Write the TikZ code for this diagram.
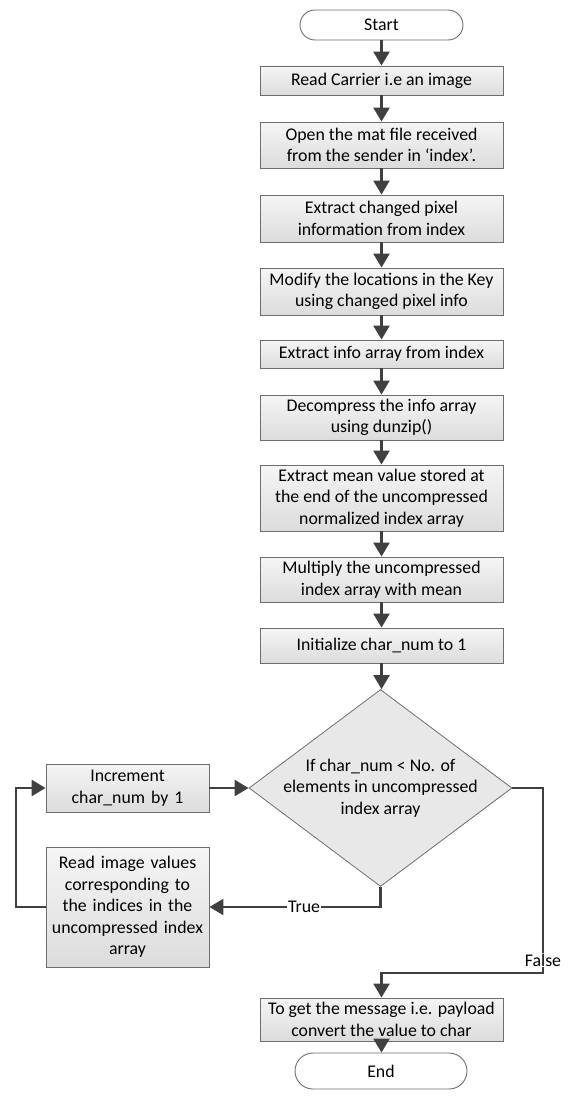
\documentclass[tikz,border=0pt]{standalone}
\usepackage{fontspec}
\setmainfont{Carlito}
\usetikzlibrary{shapes.geometric,arrows.meta}
\definecolor{linegray}{HTML}{404040}
\definecolor{edgegray}{HTML}{6E6E6E}
\definecolor{boxtop}{HTML}{F5F5F5}
\definecolor{boxbot}{HTML}{DCDCDC}
\definecolor{condfill}{HTML}{E8E8E8}

\begin{document}
\begin{tikzpicture}[x=1pt,y=-1pt,
  font=\fontsize{17.8pt}{21.5pt}\selectfont,
  process/.style={draw=edgegray,line width=0.9pt,top color=boxtop,bottom color=boxbot,
    minimum width=243pt,inner sep=2pt,align=center},
  sidebox/.style={process,minimum width=163pt,text width=159pt},
  terminal/.style={draw=edgegray,line width=0.9pt,fill=white,rounded corners=15pt,
    minimum height=30pt,minimum width=163pt,inner sep=2pt},
  decision/.style={diamond,draw=edgegray,line width=0.8pt,fill=condfill,inner sep=0pt,
    minimum width=263pt,minimum height=197pt},
  flow/.style={draw=linegray,line width=2.4pt,-{Triangle[length=14pt,width=16pt]}},
  lbl/.style={fill=white,inner sep=1pt}]
  \useasboundingbox (0,0) rectangle (569,1108);

  \node[terminal] (start) at (381.5,25) {Start};
  \node[process,minimum height=29pt] (read) at (381.5,80.5) {Read Carrier i.e an image};
  \node[process,minimum height=46pt] (open) at (381.5,145) {Open the mat file received\\from the sender in ‘index’.};
  \node[process,minimum height=47pt] (pixel) at (381.5,218.5) {Extract changed pixel\\information from index};
  \node[process,minimum height=47pt] (modify) at (381.5,291.5) {Modify the locations in the Key\\using changed pixel info};
  \node[process,minimum height=28pt] (info) at (381.5,354) {Extract info array from index};
  \node[process,minimum height=45pt] (unzip) at (381.5,417.5) {Decompress the info array\\using dunzip()};
  \node[process,minimum height=66pt] (mean) at (381.5,498) {Extract mean value stored at\\the end of the uncompressed\\normalized index array};
  \node[process,minimum height=45pt] (mult) at (381.5,579.5) {Multiply the uncompressed\\index array with mean};
  \node[process,minimum height=35pt] (init) at (381.5,645.5) {Initialize char\_num to 1};
  \node[decision] (cond) at (380.5,788) {};
  \node[align=center] (condtext) at (cond) {If char\_num < No. of\\elements in uncompressed\\index array};
  \node[sidebox,minimum height=48pt] (incr) at (127.5,788) {Increment\\char\_num by 1};
  \node[sidebox,minimum height=120pt] (readimg) at (127.5,907) {Read image values\\corresponding to\\the indices in the\\uncompressed index\\array};
  \node[process,minimum height=43pt] (msg) at (381.5,1019.5) {To get the message i.e. payload\\convert the value to char};
  \node[terminal,minimum width=172pt,minimum height=36pt,rounded corners=18pt] (stop) at (381,1071) {End};

  \coordinate (loopL) at (16,907);
  \coordinate (falseR) at (543,973);

  \draw[flow] (start) -- (read);
  \draw[flow] (read) -- (open);
  \draw[flow] (open) -- (pixel);
  \draw[flow] (pixel) -- (modify);
  \draw[flow] (modify) -- (info);
  \draw[flow] (info) -- (unzip);
  \draw[flow] (unzip) -- (mean);
  \draw[flow] (mean) -- (mult);
  \draw[flow] (mult) -- (init);
  \draw[flow] (init) -- (init |- cond.north);
  \draw[flow] (incr) -- (cond.west);
  \draw[flow] (cond.south) |- (readimg.east);
  \draw[flow] (readimg.west) -- (loopL) |- (incr.west);
  \draw[flow] (cond.east) -| (falseR) -| (msg.north);
  \draw[flow] (msg) -- (msg |- stop.north);

  \node[lbl] (truelbl) at (304,907) {True};
  \node[lbl] (falselbl) at (543,960) {False};
\end{tikzpicture}
\end{document}
